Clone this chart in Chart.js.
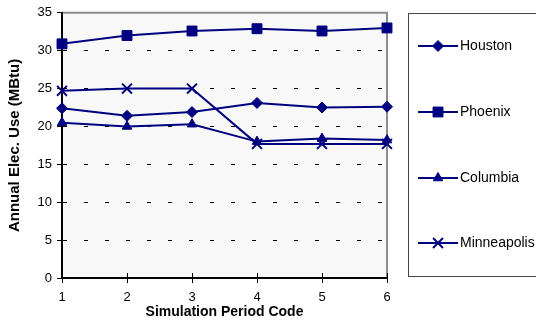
<!DOCTYPE html>
<html>
<head>
<meta charset="utf-8">
<script src="https://cdn.jsdelivr.net/npm/chart.js@4.4.1/dist/chart.umd.min.js"></script>
<style>
  html, body { margin: 0; padding: 0; background: #fff; }
  #wrap { width: 536px; height: 323px; }
</style>
</head>
<body>
<div id="wrap"><canvas id="elecChart" width="536" height="323"></canvas></div>
<script>
  // Data
  const periods = ['1', '2', '3', '4', '5', '6'];
  const houston = [22.4, 21.4, 21.9, 23.1, 22.5, 22.6];
  const phoenix = [30.9, 32.0, 32.6, 32.9, 32.6, 33.0];
  const columbia = [20.5, 20.0, 20.3, 18.0, 18.4, 18.2];
  const minneapolis = [24.7, 25.0, 25.0, 17.7, 17.7, 17.7];
  const yTicks = [0, 5, 10, 15, 20, 25, 30, 35];

  const navy = '#000080';
  const fontFam = "'Liberation Sans', Arial, sans-serif";

  function series(label, data, style, radius, bw) {
    return {
      label: label,
      data: data,
      borderColor: navy,
      backgroundColor: navy,
      borderWidth: 2,
      pointStyle: style,
      pointRadius: radius,
      pointHoverRadius: radius,
      pointBackgroundColor: navy,
      pointBorderColor: navy,
      pointBorderWidth: bw,
      tension: 0,
      clip: false
    };
  }

  // plot background + gray top/right frame
  const plotFrame = {
    id: 'plotFrame',
    beforeDraw(chart) {
      const a = chart.chartArea;
      const c = chart.ctx;
      c.save();
      c.fillStyle = '#f8f8f8';
      c.fillRect(a.left, a.top, a.right - a.left, a.bottom - a.top);
      c.strokeStyle = '#8c8c8c';
      c.lineWidth = 2;
      c.beginPath();
      c.moveTo(a.left, a.top);
      c.lineTo(a.right, a.top);
      c.lineTo(a.right, a.bottom);
      c.stroke();
      c.restore();
    },
    // x tick marks cross the axis (Excel style), draw the inner half
    beforeDatasetsDraw(chart) {
      const x = chart.scales.x;
      const a = chart.chartArea;
      const c = chart.ctx;
      c.save();
      c.strokeStyle = '#000';
      c.lineWidth = 1;
      c.beginPath();
      x.ticks.forEach((t, i) => {
        const px = Math.round(x.getPixelForTick(i)) + 0.5;
        c.moveTo(px, a.bottom - 5);
        c.lineTo(px, a.bottom);
      });
      c.stroke();
      c.restore();
    }
  };

  // legend box on the right, as in the original
  const boxLegend = {
    id: 'boxLegend',
    afterDraw(chart) {
      const c = chart.ctx;
      const rows = [46, 112, 178, 243];
      c.save();
      c.strokeStyle = '#444';
      c.lineWidth = 1;
      c.strokeRect(408.5, 13.5, 140, 263);
      chart.data.datasets.forEach((ds, i) => {
        const y = rows[i];
        c.strokeStyle = navy;
        c.lineWidth = 2;
        c.beginPath();
        c.moveTo(418, y);
        c.lineTo(458, y);
        c.stroke();
        c.fillStyle = navy;
        c.lineWidth = ds.pointBorderWidth;
        Chart.helpers.drawPoint(c, {
          pointStyle: ds.pointStyle,
          radius: ds.pointRadius,
          borderWidth: ds.pointBorderWidth,
          rotation: 0
        }, 438, y);
        c.fillStyle = '#000';
        c.font = '14px ' + fontFam;
        c.textBaseline = 'middle';
        c.textAlign = 'left';
        c.fillText(ds.label, 460, y);
      });
      c.restore();
    }
  };

  const ctx = document.getElementById('elecChart');
  new Chart(ctx, {
    type: 'line',
    data: {
      labels: periods,
      datasets: [
        series('Houston', houston, 'rectRot', 5.5, 1),
        series('Phoenix', phoenix, 'rect', 7, 1),
        series('Columbia', columbia, 'triangle', 5.5, 1),
        series('Minneapolis', minneapolis, 'crossRot', 7, 2)
      ]
    },
    options: {
      responsive: false,
      animation: false,
      devicePixelRatio: 1,
      layout: {
        padding: { top: 12, right: 149, left: 0, bottom: 0 }
      },
      scales: {
        x: {
          type: 'category',
          offset: false,
          afterFit: function(scale) { scale.height = 45; },
          grid: {
            drawOnChartArea: false,
            drawTicks: true,
            tickLength: 5,
            tickColor: '#000',
            tickWidth: 1
          },
          border: { display: true, color: '#000', width: 2 },
          ticks: {
            color: '#000',
            padding: 7,
            maxRotation: 0,
            font: { family: fontFam, size: 13 }
          },
          title: {
            display: true,
            text: 'Simulation Period Code',
            color: '#000',
            padding: { top: 0, bottom: 2 },
            font: { family: fontFam, size: 14, weight: 'bold' }
          }
        },
        y: {
          min: 0,
          max: 35,
          afterFit: function(scale) { scale.width = 62; },
          afterBuildTicks: function(scale) {
            scale.ticks = yTicks.map(v => ({ value: v }));
          },
          grid: {
            color: function(c) {
              const v = c.tick ? c.tick.value : 0;
              return (v === 0 || v === 35) ? 'rgba(0,0,0,0)' : '#000';
            },
            lineWidth: 1,
            tickLength: 5,
            tickColor: '#000',
            tickWidth: 1
          },
          border: { display: true, color: '#000', width: 2, dash: [4, 17] },
          ticks: {
            color: '#000',
            padding: 5,
            font: { family: fontFam, size: 13 }
          },
          title: {
            display: true,
            text: 'Annual Elec. Use (MBtu)',
            color: '#000',
            padding: { top: 6, bottom: 0 },
            font: { family: fontFam, size: 15, weight: 'bold' }
          }
        }
      },
      plugins: {
        legend: { display: false },
        tooltip: { enabled: false }
      }
    },
    plugins: [plotFrame, boxLegend]
  });
</script>
</body>
</html>
